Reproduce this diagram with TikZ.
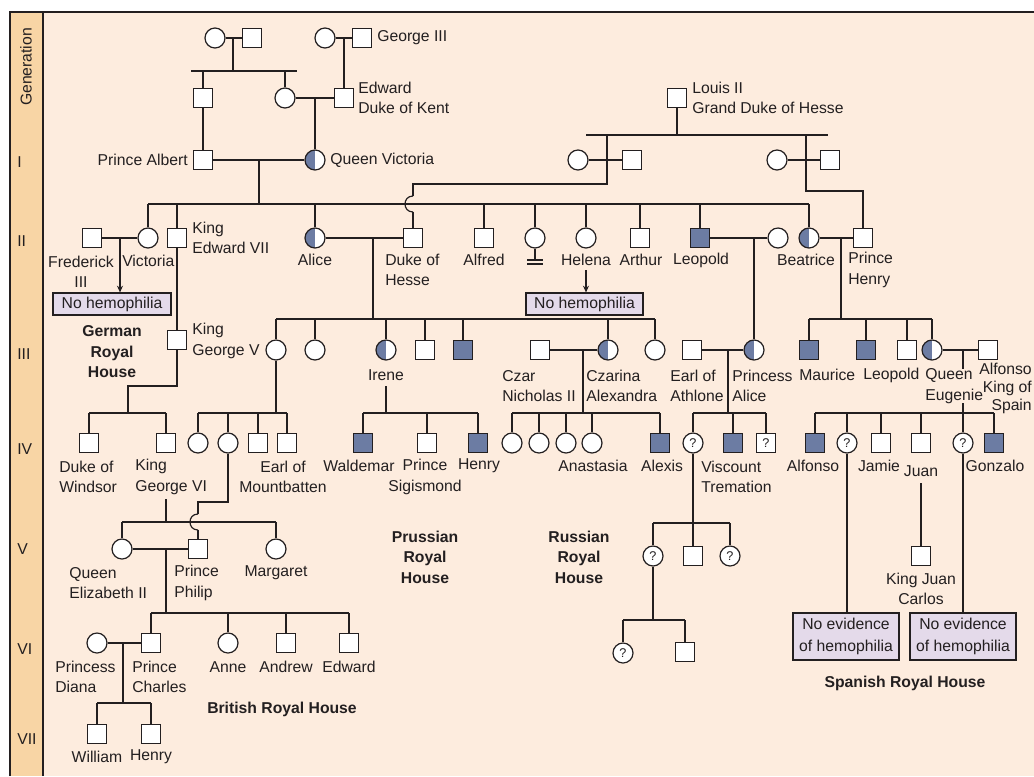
\documentclass[tikz,border=0pt]{standalone}
\usepackage{fontspec}
\setmainfont{Liberation Sans}
\usetikzlibrary{arrows.meta}
\definecolor{bgmain}{HTML}{FDECDE}
\definecolor{stripc}{HTML}{F8D5A5}
\definecolor{aff}{HTML}{6C7CA3}
\definecolor{boxc}{HTML}{E4DAEA}
\definecolor{linec}{HTML}{231F20}
\pgfdeclarelayer{back}
\pgfdeclarelayer{lines}
\pgfsetlayers{back,lines,main}
\newcommand\lblfont{\fontsize{11.8pt}{15.4pt}\selectfont}
\newcommand\qfont{\fontsize{9.5pt}{10pt}\selectfont}
\newcommand\evfont{\fontsize{11.8pt}{16.5pt}\selectfont}
\begin{document}
\begin{tikzpicture}[x=0.75pt,y=-0.75pt,
  ln/.style={line width=0.9pt, draw=linec},
  arr/.style={ln, -{Stealth[length=5pt,width=4.5pt]}},
  sym/.style={draw=linec, line width=0.9pt, fill=white, inner sep=0pt},
  male/.style={sym, rectangle, minimum size=14pt},
  female/.style={sym, circle, minimum size=15pt},
  affmale/.style={male, fill=aff},
  carrier/.style={female, path picture={\fill[aff] (path picture bounding box.south west) rectangle (path picture bounding box.north);}},
  unknown/.style={female, font=\qfont, text=linec},
  lbl/.style={inner sep=0pt, font=\lblfont, text=linec},
  house/.style={lbl, font=\lblfont\bfseries, align=center},
  note/.style={draw=linec, line width=0.9pt, fill=boxc, inner sep=0pt, font=\lblfont, text=linec, align=center}
]
\useasboundingbox (0,0) rectangle (1034,776);
\begin{pgfonlayer}{back}
\fill[white] (0,0) rectangle (1034,776);
\fill[bgmain] (10,12) rectangle (1034,776);
\fill[stripc] (10,12) rectangle (43,776);
\draw[linec, line width=0.8pt] (10,776) -- (10,12) -- (1034,12);
\draw[linec, line width=0.8pt] (43,12) -- (43,776);
\end{pgfonlayer}

% ---------- symbols ----------
% generation 0
\node[female] (gm1) at (215,38) {};
\node[male] (gf1) at (252,38) {};
\node[female] (gm2) at (325,38) {};
\node[male] (g3) at (362,38) {};
\node[male] (albf) at (203,98) {};
\node[female] (dkent) at (285,98) {};
\node[male] (edw) at (344,98) {};
\node[male] (louis) at (677,98) {};
% generation I
\node[male] (albert) at (203,160) {};
\node[carrier] (qv) at (315,160) {};
\node[female] (ha) at (578,160) {};
\node[male] (hb) at (632,160) {};
\node[female] (hc) at (777,160) {};
\node[male] (hd) at (830,160) {};
% generation II
\node[male] (fred) at (92,238) {};
\node[female] (vicp) at (148,238) {};
\node[male] (ed7) at (177,238) {};
\node[carrier] (alice) at (315,238) {};
\node[male] (duke) at (413,238) {};
\node[male] (alfred) at (484,238) {};
\node[female] (girlx) at (535,238) {};
\node[female] (helena) at (586,238) {};
\node[male] (arthur) at (640,238) {};
\node[affmale] (leo) at (700,238) {};
\node[female] (leow) at (778,238) {};
\node[carrier] (bea) at (809,238) {};
\node[male] (henry) at (863,238) {};
% generation III
\node[male] (g5) at (177,340) {};
\node[female] (vh) at (276,350) {};
\node[female] (c2) at (315,350) {};
\node[carrier] (irene) at (386,350) {};
\node[male] (s3) at (425,350) {};
\node[affmale] (f3) at (463,350) {};
\node[male] (czar) at (540,350) {};
\node[carrier] (czarina) at (608,350) {};
\node[female] (c3) at (655,350) {};
\node[male] (athlone) at (692,350) {};
\node[carrier] (palice) at (754,350) {};
\node[affmale] (maurice) at (809,350) {};
\node[affmale] (leo2) at (866,350) {};
\node[male] (s4) at (907,350) {};
\node[carrier] (eug) at (932,350) {};
\node[male] (alfk) at (988,350) {};
% generation IV
\node[male] (windsor) at (89,443) {};
\node[male] (g6) at (166,443) {};
\node[female] (m1) at (198,443) {};
\node[female] (m2) at (228,443) {};
\node[male] (m3) at (258,443) {};
\node[male] (mount) at (287,443) {};
\node[affmale] (wald) at (363,443) {};
\node[male] (sigis) at (427,443) {};
\node[affmale] (henr) at (478,443) {};
\node[female] (an1) at (512,443) {};
\node[female] (an2) at (539,443) {};
\node[female] (an3) at (566,443) {};
\node[female] (an4) at (592,443) {};
\node[affmale] (alexis) at (660,443) {};
\node[unknown] (q1) at (693,443) {?};
\node[affmale] (trem) at (733,443) {};
\node[male, font=\qfont, text=linec] (qs) at (766,443) {?};
\node[affmale] (alfo) at (815,443) {};
\node[unknown] (q2) at (847,443) {?};
\node[male] (jamie) at (881,443) {};
\node[male] (juan) at (921,443) {};
\node[unknown] (q3) at (963,443) {?};
\node[affmale] (gonz) at (994,443) {};
% generation V
\node[female] (eliz) at (122,549) {};
\node[male] (philip) at (198,549) {};
\node[female] (marg) at (276,549) {};
\node[unknown] (q4) at (653,556) {?};
\node[male] (s5) at (693,556) {};
\node[unknown] (q5) at (730,556) {?};
\node[male] (jc) at (921,556) {};
% generation VI
\node[female] (diana) at (97,643) {};
\node[male] (charles) at (151,643) {};
\node[female] (anne) at (228,643) {};
\node[male] (andrew) at (286,643) {};
\node[male] (edwd) at (349,643) {};
\node[unknown] (q6) at (623,653) {?};
\node[male] (s6) at (685,652) {};
% generation VII
\node[male] (william) at (97,734) {};
\node[male] (harry) at (151,734) {};

% ---------- boxes ----------
\node[note, minimum width=88.5pt, minimum height=16.5pt] (box1) at (112,304) {No hemophilia};
\node[note, minimum width=87.75pt, minimum height=16.5pt] (box2) at (584.5,304) {No hemophilia};
\node[note, font=\evfont, minimum width=79.5pt, minimum height=35.25pt] (box3) at (846,636.5) {No evidence\\of hemophilia};
\node[note, font=\evfont, minimum width=79.5pt, minimum height=35.25pt] (box4) at (963,636.5) {No evidence\\of hemophilia};

% ---------- labels ----------
\node[lbl, rotate=90] (tgen) at (26,67) {Generation};
\node[lbl, anchor=west] (r1) at (17,162) {I};
\node[lbl, anchor=west] (r2) at (17,241) {II};
\node[lbl, anchor=west] (r3) at (17,354) {III};
\node[lbl, anchor=west] (r4) at (17,449) {IV};
\node[lbl, anchor=west] (r5) at (17,549) {V};
\node[lbl, anchor=west] (r6) at (17,649) {VI};
\node[lbl, anchor=west] (r7) at (17,739) {VII};

\node[lbl, anchor=west] (tg3) at (377,38) {George III};
\node[lbl, anchor=west, align=left] (tedw) at (358,98) {Edward\\Duke of Kent};
\node[lbl, anchor=east] (talb) at (188,160) {Prince Albert};
\node[lbl, anchor=west] (tqv) at (330,160) {Queen Victoria};
\node[lbl, anchor=west, align=left] (tlouis) at (692,98) {Louis II\\Grand Duke of Hesse};

\node[lbl, align=center] (tfred) at (81,272) {Frederick\\III};
\node[lbl, anchor=west] (tvic) at (122,261) {Victoria};
\node[lbl, anchor=west, align=left] (ted7) at (192,238) {King\\Edward VII};
\node[lbl] (talice) at (315,260) {Alice};
\node[lbl, anchor=west, align=left] (tduke) at (385,270) {Duke of\\Hesse};
\node[lbl] (talf) at (484,260) {Alfred};
\node[lbl] (thel) at (586,260) {Helena};
\node[lbl] (tart) at (641,260) {Arthur};
\node[lbl] (tleo) at (701,260) {Leopold};
\node[lbl] (tbea) at (806,260) {Beatrice};
\node[lbl, anchor=west, align=left] (thenry) at (848,270) {Prince\\Henry};

\node[house] (hger) at (112,352) {German\\Royal\\House};
\node[lbl, anchor=west, align=left] (tg5) at (192,341) {King\\George V};
\node[lbl] (tirene) at (386,375) {Irene};
\node[lbl, anchor=west, align=left] (tczar) at (502,386) {Czar\\Nicholas II};
\node[lbl, anchor=west, align=left] (tczarina) at (586,386) {Czarina\\Alexandra};
\node[lbl, anchor=west, align=left] (tath) at (670,386) {Earl of\\Athlone};
\node[lbl, anchor=west, align=left] (tpal) at (732,386) {Princess\\Alice};
\node[lbl, anchor=west] (tmau) at (799,375) {Maurice};
\node[lbl, anchor=west] (tleo2) at (863,375) {Leopold};
\node[lbl, anchor=west, align=left, fill=bgmain] (teug) at (925,386) {Queen\\Eugenie};
\node[lbl, anchor=east, align=right, font=\fontsize{11.8pt}{13.5pt}\selectfont] (talfk) at (1032,388) {Alfonso\\King of\\Spain};

\node[lbl, anchor=west, align=left] (twin) at (59,477) {Duke of\\Windsor};
\node[lbl, anchor=west, align=left] (tg6) at (135,477) {King\\George VI};
\node[lbl, align=center] (tmount) at (283,477) {Earl of\\Mountbatten};
\node[lbl] (twald) at (359,466) {Waldemar};
\node[lbl, align=center] (tsig) at (425,477) {Prince\\Sigismond};
\node[lbl] (thenr) at (479,466) {Henry};
\node[lbl] (tana) at (593,466) {Anastasia};
\node[lbl] (talex) at (662,466) {Alexis};
\node[lbl, anchor=west, align=left] (ttrem) at (701,477) {Viscount\\Tremation};
\node[lbl] (talfo) at (813,466) {Alfonso};
\node[lbl] (tjam) at (879,466) {Jamie};
\node[lbl] (tjuan) at (921,471) {Juan};
\node[lbl] (tgonz) at (995,466) {Gonzalo};

\node[house] (hpru) at (425,557) {Prussian\\Royal\\House};
\node[house] (hrus) at (579,557) {Russian\\Royal\\House};
\node[lbl, anchor=west, align=left] (teliz) at (69,583) {Queen\\Elizabeth II};
\node[lbl, anchor=west, align=left] (tphil) at (174,583) {Prince\\Philip};
\node[lbl] (tmarg) at (276,573) {Margaret};
\node[lbl, align=center] (tjc) at (921,589) {King Juan\\Carlos};
\node[house] (hspa) at (905,683) {Spanish Royal House};

\node[lbl, anchor=west, align=left] (tdia) at (55,677) {Princess\\Diana};
\node[lbl, anchor=west, align=left] (tcha) at (132,677) {Prince\\Charles};
\node[lbl] (tanne) at (228,667) {Anne};
\node[lbl] (tand) at (286,667) {Andrew};
\node[lbl] (tedwd) at (349,667) {Edward};
\node[house] (hbri) at (282,709) {British Royal House};
\node[lbl] (twil) at (97,757) {William};
\node[lbl] (tharry) at (151,757) {Henry};

% ---------- connectors ----------
\begin{pgfonlayer}{lines}
% generation 0
\draw[ln] (gm1) -- (gf1);
\coordinate (m01) at (233,38);
\coordinate (s01) at (233,71);
\coordinate (s01l) at (191,71);
\coordinate (s01r) at (297,71);
\draw[ln] (m01) -- (s01);
\draw[ln] (s01l) -- (s01r);
\draw[ln] (albf |- s01) -- (albf);
\draw[ln] (dkent |- s01) -- (dkent);
\draw[ln] (gm2) -- (g3);
\draw[ln] (edw |- gm2) -- (edw);
\draw[ln] (dkent) -- (edw);
\draw[ln] (qv |- edw) -- (qv);
\draw[ln] (albf) -- (albert);
\draw[ln] (albert) -- (qv);
\coordinate (s1) at (259,204);
\draw[ln] (s1 |- albert) -- (s1);
\draw[ln] (vicp |- s1) -- (bea |- s1);
\foreach \c in {vicp,ed7,alice,alfred,girlx,helena,arthur,leo,bea}
  \draw[ln] (\c |- s1) -- (\c);
% Louis II
\coordinate (sl) at (677,135);
\coordinate (sll) at (586,135);
\coordinate (slr) at (828,135);
\draw[ln] (louis) -- (sl);
\draw[ln] (sll) -- (slr);
\draw[ln] (ha) -- (hb);
\draw[ln] (hc) -- (hd);
\coordinate (la) at (607,135);
\coordinate (la2) at (607,184);
\coordinate (hopa1) at (413,196);
\coordinate (hopa2) at (413,212);
\draw[ln] (la) -- (la2) -- (duke |- la2) -- (hopa1);
\draw[ln] (hopa1) .. controls (402.3,196) and (402.3,212) .. (hopa2);
\draw[ln] (hopa2) -- (duke);
\coordinate (lb) at (806,135);
\coordinate (lb2) at (806,191);
\draw[ln] (lb) -- (lb2) -- (henry |- lb2) -- (henry);
% generation II
\draw[ln] (fred) -- (vicp);
\coordinate (mfv) at (120,238);
\draw[arr] (mfv) -- (mfv |- box1.north);
\coordinate (gx) at (535,260);
\draw[ln] (girlx) -- (gx);
\draw[ln] ([xshift=-6pt]gx) -- ([xshift=6pt]gx);
\draw[ln] ([xshift=-6pt,yshift=-3pt]gx) -- ([xshift=6pt,yshift=-3pt]gx);
\coordinate (hl) at (586,270);
\draw[arr] (hl) -- (hl |- box2.north);
\draw[ln] (ed7) -- (g5);
\draw[ln] (alice) -- (duke);
\coordinate (s2a) at (373,319);
\draw[ln] (s2a |- alice) -- (s2a);
\draw[ln] (vh |- s2a) -- (c3 |- s2a);
\foreach \c in {vh,c2,irene,s3,f3,czarina,c3}
  \draw[ln] (\c |- s2a) -- (\c);
\draw[ln] (leo) -- (leow);
\draw[ln] (palice |- leo) -- (palice);
\draw[ln] (bea) -- (henry);
\coordinate (s2b) at (841,319);
\draw[ln] (s2b |- bea) -- (s2b);
\draw[ln] (maurice |- s2b) -- (eug |- s2b);
\foreach \c in {maurice,leo2,s4,eug}
  \draw[ln] (\c |- s2b) -- (\c);
% generation III
\coordinate (g5a) at (177,386);
\coordinate (g5b) at (128,386);
\coordinate (s3a) at (128,413);
\draw[ln] (g5) -- (g5a) -- (g5b) -- (s3a);
\draw[ln] (windsor |- s3a) -- (g6 |- s3a);
\foreach \c in {windsor,g6}
  \draw[ln] (\c |- s3a) -- (\c);
\coordinate (s3b) at (276,413);
\draw[ln] (vh) -- (s3b);
\draw[ln] (m1 |- s3b) -- (mount |- s3b);
\foreach \c in {m1,m2,m3,mount}
  \draw[ln] (\c |- s3b) -- (\c);
\coordinate (ir1) at (386,386);
\coordinate (s3c) at (386,413);
\draw[ln] (ir1) -- (s3c);
\draw[ln] (wald |- s3c) -- (henr |- s3c);
\foreach \c in {wald,sigis,henr}
  \draw[ln] (\c |- s3c) -- (\c);
\draw[ln] (czar) -- (czarina);
\coordinate (s3d) at (583,413);
\draw[ln] (s3d |- czar) -- (s3d);
\draw[ln] (an1 |- s3d) -- (alexis |- s3d);
\foreach \c in {an1,an2,an3,an4,alexis}
  \draw[ln] (\c |- s3d) -- (\c);
\draw[ln] (athlone) -- (palice);
\coordinate (s3e) at (728,413);
\draw[ln] (s3e |- athlone) -- (s3e);
\draw[ln] (q1 |- s3e) -- (qs |- s3e);
\foreach \c in {q1,trem,qs}
  \draw[ln] (\c |- s3e) -- (\c);
\draw[ln] (eug) -- (alfk);
\coordinate (s3f) at (963,413);
\draw[ln] (s3f |- eug) -- (s3f);
\draw[ln] (alfo |- s3f) -- (gonz |- s3f);
\foreach \c in {alfo,q2,jamie,juan,q3,gonz}
  \draw[ln] (\c |- s3f) -- (\c);
% generation IV
\coordinate (g6a) at (166,499);
\coordinate (s4a) at (166,522);
\draw[ln] (g6a) -- (s4a);
\draw[ln] (eliz |- s4a) -- (marg |- s4a);
\draw[ln] (eliz |- s4a) -- (eliz);
\draw[ln] (marg |- s4a) -- (marg);
\coordinate (m2a) at (228,502);
\coordinate (m2b) at (198,502);
\coordinate (hopb1) at (198,514);
\coordinate (hopb2) at (198,530);
\draw[ln] (m2) -- (m2a) -- (m2b) -- (hopb1);
\draw[ln] (hopb1) .. controls (187.3,514) and (187.3,530) .. (hopb2);
\draw[ln] (hopb2) -- (philip);
\coordinate (s4b) at (693,523);
\draw[ln] (q1) -- (s5);
\draw[ln] (q4 |- s4b) -- (q5 |- s4b);
\draw[ln] (q4 |- s4b) -- (q4);
\draw[ln] (q5 |- s4b) -- (q5);
\draw[ln] (q2) -- (q2 |- box3.north);
\draw[ln] (q3) -- (q3 |- box4.north);
\coordinate (ju) at (921,483);
\draw[ln] (ju) -- (jc);
% generation V
\draw[ln] (eliz) -- (philip);
\coordinate (s5a) at (166,613);
\draw[ln] (s5a |- eliz) -- (s5a);
\draw[ln] (charles |- s5a) -- (edwd |- s5a);
\foreach \c in {charles,anne,andrew,edwd}
  \draw[ln] (\c |- s5a) -- (\c);
\coordinate (s5b) at (653,620);
\draw[ln] (q4) -- (s5b);
\draw[ln] (q6 |- s5b) -- (s6 |- s5b);
\foreach \c in {q6,s6}
  \draw[ln] (\c |- s5b) -- (\c);
% generation VI
\draw[ln] (diana) -- (charles);
\coordinate (s6a) at (123,703);
\draw[ln] (s6a |- diana) -- (s6a);
\draw[ln] (william |- s6a) -- (harry |- s6a);
\foreach \c in {william,harry}
  \draw[ln] (\c |- s6a) -- (\c);
\end{pgfonlayer}
\end{tikzpicture}
\end{document}
